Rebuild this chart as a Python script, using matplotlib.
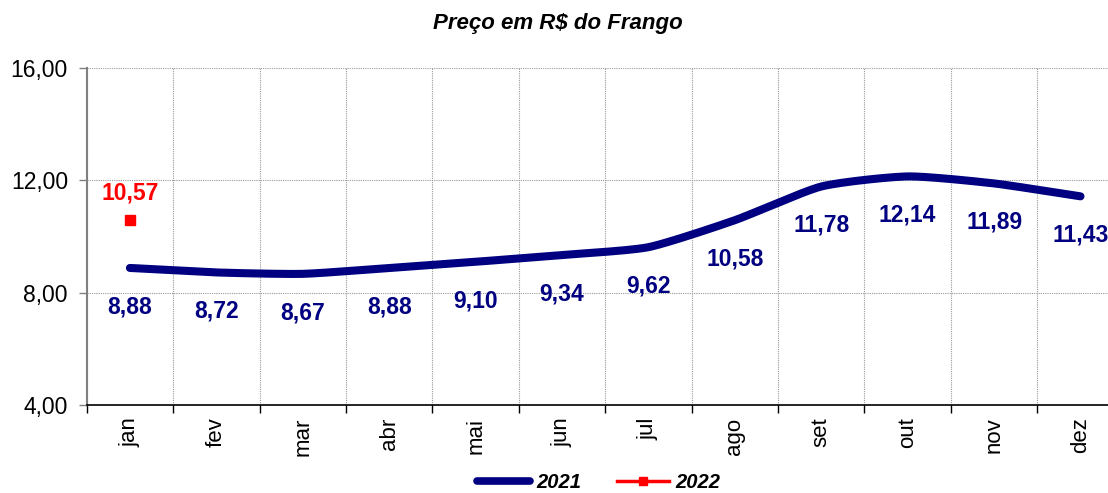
import numpy as np
import matplotlib
matplotlib.use("Agg")
import matplotlib.pyplot as plt
from matplotlib.lines import Line2D

months = ["jan", "fev", "mar", "abr", "mai", "jun", "jul", "ago", "set", "out", "nov", "dez"]
preco_2021 = [8.88, 8.72, 8.67, 8.88, 9.10, 9.34, 9.62, 10.58, 11.78, 12.14, 11.89, 11.43]
preco_2022 = [10.57]
yticks = [4.0, 8.0, 12.0, 16.0]

plt.rcParams['font.family'] = ['Liberation Sans', 'DejaVu Sans']

NAVY = "#000080"
RED = "#FF0000"

fig = plt.figure(figsize=(11.08, 4.93), dpi=100)
ax = fig.add_axes([86.7 / 1108, 1 - 405 / 493, 1037 / 1108, 337 / 493])

x = np.arange(len(months))


def smooth(xs, ys, k=0.3, n=30):
    xs = np.asarray(xs, float)
    ys = np.asarray(ys, float)
    px = np.concatenate([[2 * xs[0] - xs[1]], xs, [2 * xs[-1] - xs[-2]]])
    py = np.concatenate([[2 * ys[0] - ys[1]], ys, [2 * ys[-1] - ys[-2]]])
    ox, oy = [], []
    t = np.linspace(0, 1, n, endpoint=False)
    for i in range(1, len(px) - 2):
        for arr, out in ((px, ox), (py, oy)):
            p0, p1, p2, p3 = arr[i - 1], arr[i], arr[i + 1], arr[i + 2]
            c1 = p1 + (p2 - p0) * k / 3
            c2 = p2 - (p3 - p1) * k / 3
            out.extend((1 - t) ** 3 * p1 + 3 * (1 - t) ** 2 * t * c1 + 3 * (1 - t) * t ** 2 * c2 + t ** 3 * p2)
    ox.append(xs[-1])
    oy.append(ys[-1])
    return np.array(ox), np.array(oy)


sx, sy = smooth(x, preco_2021)
ax.plot(sx, sy, color=NAVY, lw=5.8, solid_capstyle="round", zorder=3)
ax.plot(x[:len(preco_2022)], preco_2022, color=RED, lw=0, marker="s", markersize=6.5, zorder=4)

for xi, v in zip(x, preco_2021):
    ax.annotate(f"{v:.2f}".replace(".", ","), (xi, v), xytext=(0, -28), textcoords="offset points",
                ha="center", va="center", fontsize=16.5, fontweight="bold", color=NAVY)
for xi, v in zip(x, preco_2022):
    ax.annotate(f"{v:.2f}".replace(".", ","), (xi, v), xytext=(0, 20), textcoords="offset points",
                ha="center", va="center", fontsize=16.5, fontweight="bold", color=RED)

ax.set_xlim(-0.5, len(months) - 0.5)
ax.set_ylim(4, 16)
ax.set_yticks(yticks)
ax.set_yticklabels([f"{t:.2f}".replace(".", ",") for t in yticks], fontsize=16.5)
ax.set_xticks(x)
ax.set_xticklabels(months, rotation=90, fontsize=16)
ax.set_xticks(np.arange(len(months) + 1) - 0.5, minor=True)
ax.tick_params(axis="x", which="major", length=0, pad=9)
ax.tick_params(axis="x", which="minor", length=6, width=1, color="black")
ax.tick_params(axis="y", which="major", length=6, width=1, color="#808080", pad=7.5)

ax.grid(True, axis="y", which="major", color="#999999", linestyle=(0, (1, 1)), lw=0.8)
ax.grid(True, axis="x", which="minor", color="#999999", linestyle=(0, (1, 1)), lw=0.8)

for s in ["top", "right"]:
    ax.spines[s].set_visible(False)
ax.spines["left"].set_color("#808080")
ax.spines["left"].set_linewidth(1.5)
ax.spines["bottom"].set_color("black")
ax.spines["bottom"].set_linewidth(1.2)

fig.text(558 / 1108, 1 - 23 / 493, "Preço em R\\$ do Frango", ha="center", va="center",
         fontsize=16, fontweight="bold", fontstyle="italic")

handles = [Line2D([], [], color=NAVY, lw=5.5, solid_capstyle="round"),
           Line2D([], [], color=RED, lw=2.5, marker="s", markersize=6)]
leg = fig.legend(handles, ["2021", "2022"], loc="center", bbox_to_anchor=(599 / 1108, 1 - 483 / 493),
                 ncol=2, frameon=False, handlelength=2.6, columnspacing=1.8, handletextpad=0.3,
                 prop={"weight": "bold", "style": "italic", "size": 14.5})

fig.savefig("out.png", dpi=100)
